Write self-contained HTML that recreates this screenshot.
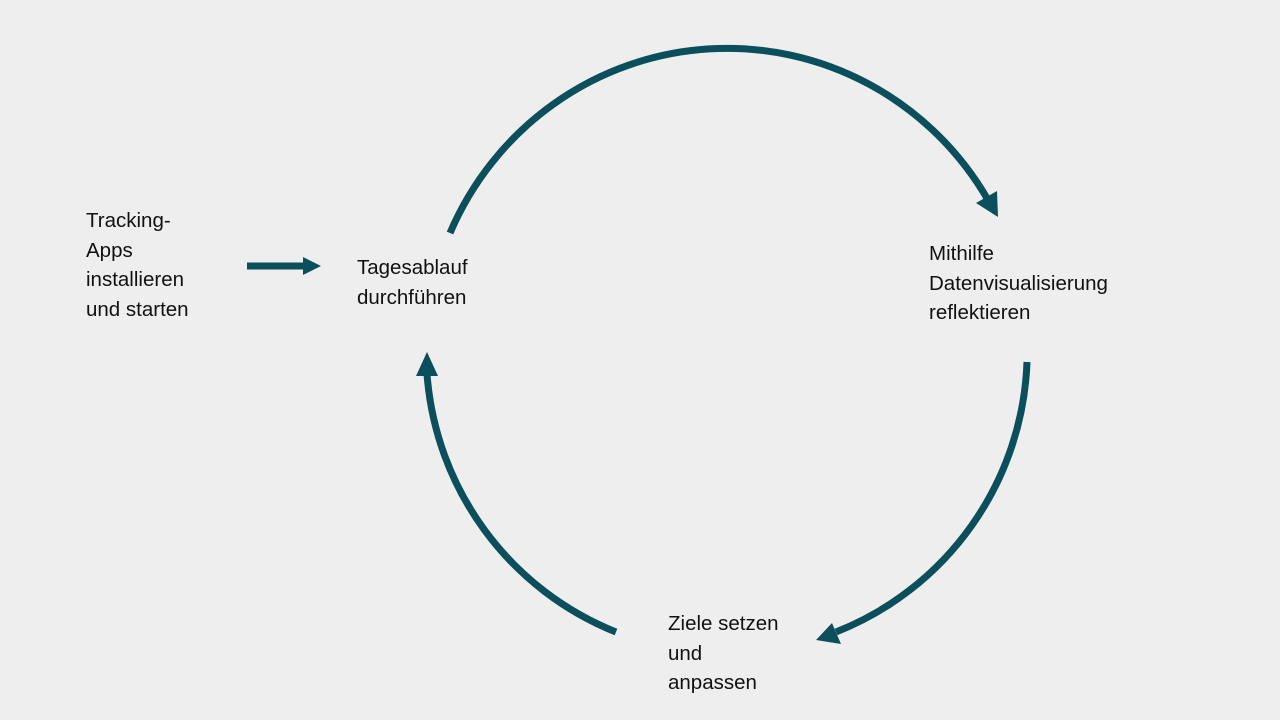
<!DOCTYPE html>
<html><head><meta charset="utf-8">
<style>
html,body{margin:0;padding:0;background:#eeeeee;}
body{width:1280px;height:720px;position:relative;overflow:hidden;font-family:"Liberation Sans",sans-serif;font-size:20.5px;color:#111;}
.t{position:absolute;line-height:29.5px;white-space:nowrap;}
svg{position:absolute;left:0;top:0;}
</style></head><body>
<svg width="1280" height="720" viewBox="0 0 1280 720">
<g fill="none" stroke="#0b4f5c" stroke-width="7">
<path d="M450 233 A302 306 0 0 1 988 200"/>
<path d="M1027 362 A302 302 0 0 1 836 632"/>
<path d="M616 632 A302 302 0 0 1 427 374"/>
<path d="M247 266 L305 266"/>
</g>
<g fill="#0b4f5c">
<polygon points="998,217 976,203 997,191"/>
<polygon points="816,640 832,623 841,644"/>
<polygon points="427,352 416,376 438,376"/>
<polygon points="321,266 303,257 303,275"/>
</g>
</svg>
<div class="t" style="left:86px;top:206px;">Tracking-<br>Apps<br>installieren<br>und starten</div>
<div class="t" style="left:357px;top:253px;">Tagesablauf<br>durchführen</div>
<div class="t" style="left:929px;top:239px;">Mithilfe<br>Datenvisualisierung<br>reflektieren</div>
<div class="t" style="left:668px;top:609px;">Ziele setzen<br>und<br>anpassen</div>
</body></html>
